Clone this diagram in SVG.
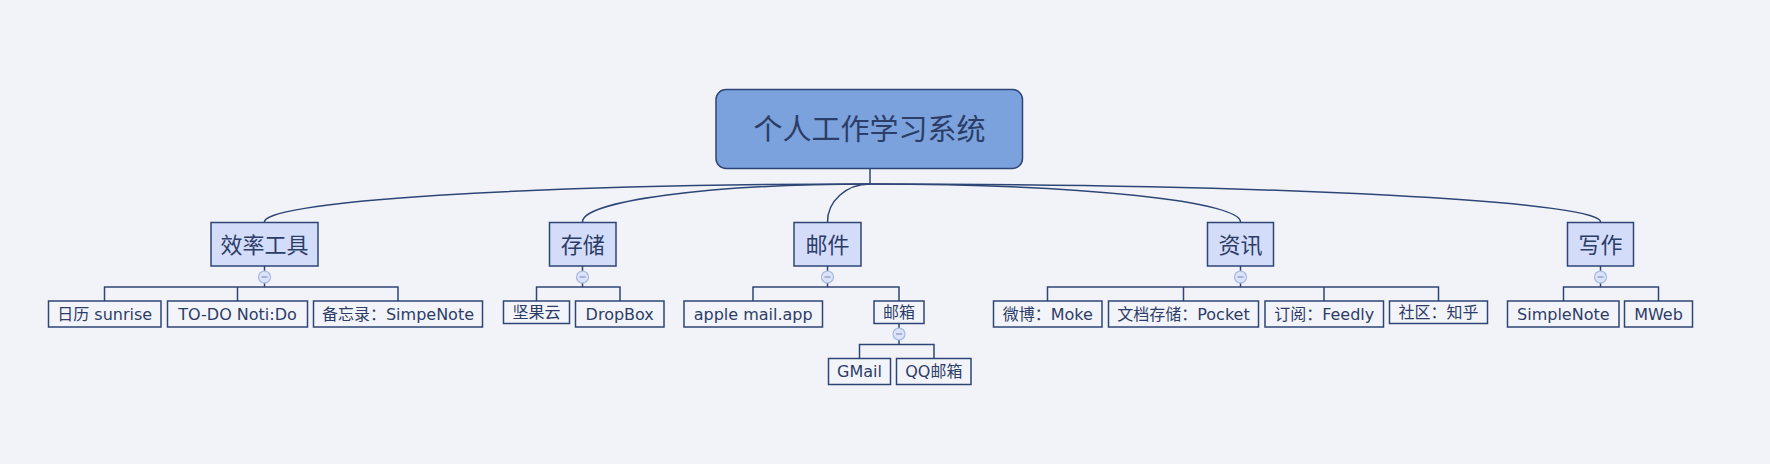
<svg xmlns="http://www.w3.org/2000/svg" width="1770" height="464" viewBox="0 0 1770 464">
<style>
.bg{fill:#f2f3f9}
.root{fill:#7ba2dc;stroke:#2e4676;stroke-width:1.5}
.main{fill:#d3dcf9;stroke:#2e4676;stroke-width:1.5}
.sub{fill:#f3f4fa;stroke:#2e4676;stroke-width:1.5}
.ln{fill:none;stroke:#2e4676;stroke-width:1.5}
.cb circle{fill:#dbe3f8;stroke:#a6b9e3;stroke-width:1.2}
.cb line{stroke:#8596c2;stroke-width:1.2}
text{fill:#2c3d68;text-anchor:middle}
.tr{font-family:"Noto Sans CJK SC",sans-serif;font-size:29px;dominant-baseline:central}
.tm{font-family:"Noto Sans CJK SC",sans-serif;font-size:22px;dominant-baseline:central}
.ts{font-family:"DejaVu Sans","Noto Sans CJK SC",sans-serif;font-size:16px}
</style>
<rect class="bg" x="0" y="0" width="1770" height="464"/>
<g id="connectors">
<line class="ln" x1="870" y1="168" x2="870" y2="184"/>
<path class="ln" d="M870,184 A606,38 0 0,0 264.5,222.5"/>
<path class="ln" d="M870,184 A287.5,38 0 0,0 582.5,222.5"/>
<path class="ln" d="M870,184 A42.5,38 0 0,0 827.5,222.5"/>
<path class="ln" d="M870,184 A370.5,38 0 0,1 1240.5,222.5"/>
<path class="ln" d="M870,184 A730.5,38 0 0,1 1600.5,222.5"/>
<path class="ln" d="M264.5,266 V287 M104.5,301 V287 H398 V301 M237.5,287 V301"/>
<path class="ln" d="M582.5,266 V287 M536.5,301 V287 H620 V301"/>
<path class="ln" d="M827.5,266 V287 M753,301 V287 H899 V301"/>
<path class="ln" d="M899,324 V344.5 M859.5,358.5 V344.5 H934 V358.5"/>
<path class="ln" d="M1240.5,266 V287 M1047.5,301 V287 H1438.5 V301 M1183.5,287 V301 M1324,287 V301"/>
<path class="ln" d="M1600.5,266 V287 M1563.5,301 V287 H1658.5 V301"/>
<g class="cb"><circle cx="264.5" cy="277" r="6"/><line x1="261.5" y1="277" x2="267.5" y2="277"/></g>
<g class="cb"><circle cx="582.5" cy="277" r="6"/><line x1="579.5" y1="277" x2="585.5" y2="277"/></g>
<g class="cb"><circle cx="827.5" cy="277" r="6"/><line x1="824.5" y1="277" x2="830.5" y2="277"/></g>
<g class="cb"><circle cx="899" cy="334" r="6"/><line x1="896" y1="334" x2="902" y2="334"/></g>
<g class="cb"><circle cx="1240.5" cy="277" r="6"/><line x1="1237.5" y1="277" x2="1243.5" y2="277"/></g>
<g class="cb"><circle cx="1600.5" cy="277" r="6"/><line x1="1597.5" y1="277" x2="1603.5" y2="277"/></g>
</g>
<g id="root"><rect class="root" x="716" y="89.5" width="306.5" height="79" rx="10"/><text class="tr" x="869.5" y="127">个人工作学习系统</text></g>
<g id="n-xiaolv"><rect class="main" x="211" y="222.5" width="107" height="43.5"/><text class="tm" x="264.5" y="243">效率工具</text></g>
<g id="n-cunchu"><rect class="main" x="549.5" y="222.5" width="66.5" height="43.5"/><text class="tm" x="582.7" y="243">存储</text></g>
<g id="n-youjian"><rect class="main" x="794" y="222.5" width="67" height="43.5"/><text class="tm" x="827.5" y="243">邮件</text></g>
<g id="n-zixun"><rect class="main" x="1207.5" y="222.5" width="66" height="43.5"/><text class="tm" x="1240.5" y="243">资讯</text></g>
<g id="n-xiezuo"><rect class="main" x="1567.5" y="222.5" width="66" height="43.5"/><text class="tm" x="1600.5" y="243">写作</text></g>
<g id="n-rili"><rect class="sub" x="48.5" y="301" width="112.5" height="26"/><text class="ts" x="104.7" y="319.5">日历 sunrise</text></g>
<g id="n-todo"><rect class="sub" x="167.5" y="301" width="140" height="26"/><text class="ts" x="237.5" y="319.5">TO-DO Noti:Do</text></g>
<g id="n-beiwang"><rect class="sub" x="313.5" y="301" width="169" height="26"/><text class="ts" x="398" y="319.5">备忘录：SimpeNote</text></g>
<g id="n-jianguo"><rect class="sub" x="503.5" y="301" width="66" height="22.5"/><text class="ts" x="536.5" y="318">坚果云</text></g>
<g id="n-dropbox"><rect class="sub" x="575.5" y="301" width="88.5" height="26"/><text class="ts" x="619.7" y="319.5">DropBox</text></g>
<g id="n-apple"><rect class="sub" x="684" y="301" width="138.5" height="26"/><text class="ts" x="753.2" y="319.5">apple mail.app</text></g>
<g id="n-youxiang"><rect class="sub" x="874" y="301" width="50" height="22.5"/><text class="ts" x="899" y="318">邮箱</text></g>
<g id="n-gmail"><rect class="sub" x="828.5" y="358.5" width="62" height="26"/><text class="ts" x="859.5" y="377">GMail</text></g>
<g id="n-qq"><rect class="sub" x="896.5" y="358.5" width="74.5" height="26"/><text class="ts" x="933.8" y="377">QQ邮箱</text></g>
<g id="n-weibo"><rect class="sub" x="993.5" y="301" width="108.5" height="26"/><text class="ts" x="1047.7" y="319.5">微博：Moke</text></g>
<g id="n-pocket"><rect class="sub" x="1108.5" y="301" width="150" height="26"/><text class="ts" x="1183.5" y="319.5">文档存储：Pocket</text></g>
<g id="n-feedly"><rect class="sub" x="1265" y="301" width="118.5" height="26"/><text class="ts" x="1324.2" y="319.5">订阅：Feedly</text></g>
<g id="n-zhihu"><rect class="sub" x="1389.5" y="301" width="98" height="22.5"/><text class="ts" x="1438.5" y="318">社区：知乎</text></g>
<g id="n-simplenote"><rect class="sub" x="1507.5" y="301" width="111.5" height="26"/><text class="ts" x="1563.3" y="319.5">SimpleNote</text></g>
<g id="n-mweb"><rect class="sub" x="1624.5" y="301" width="68" height="26"/><text class="ts" x="1658.5" y="319.5">MWeb</text></g>
</svg>
